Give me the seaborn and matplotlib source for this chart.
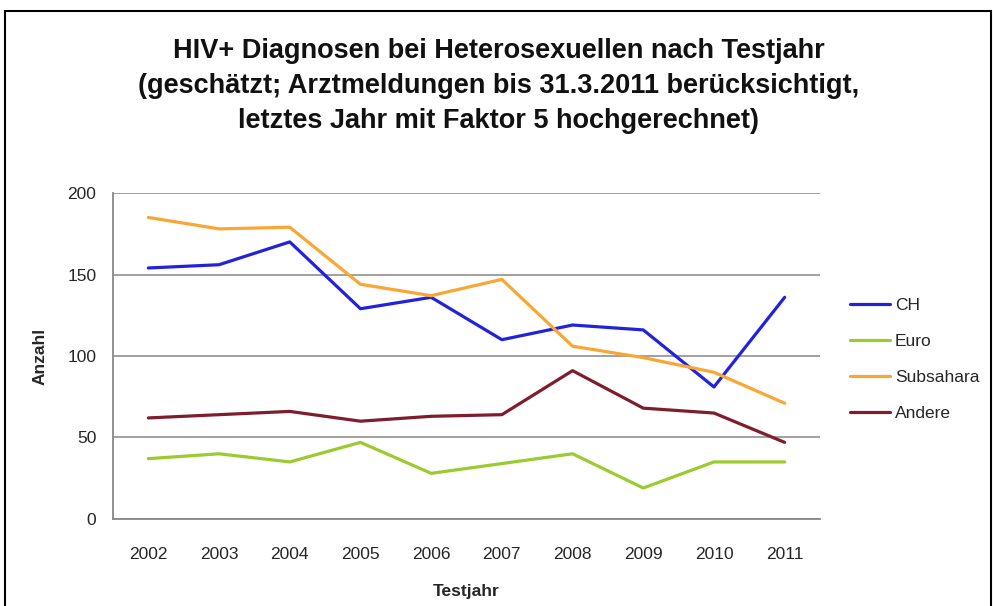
import pandas as pd
import seaborn as sns
import matplotlib.pyplot as plt
from matplotlib.patches import Rectangle

# Daten
jahre = [2002, 2003, 2004, 2005, 2006, 2007, 2008, 2009, 2010, 2011]
ch = [154, 156, 170, 129, 136, 110, 119, 116, 81, 136]
euro = [37, 40, 35, 47, 28, 34, 40, 19, 35, 35]
subsahara = [185, 178, 179, 144, 137, 147, 106, 99, 90, 71]
andere = [62, 64, 66, 60, 63, 64, 91, 68, 65, 47]

gruppen = ["CH", "Euro", "Subsahara", "Andere"]
farben = ["#2222DD", "#9BCB2F", "#F9A634", "#7E1E2C"]

df = pd.DataFrame({"Testjahr": jahre, "CH": ch, "Euro": euro,
                   "Subsahara": subsahara, "Andere": andere})
df = df.melt(id_vars="Testjahr", var_name="Gruppe", value_name="Anzahl")

sns.set_style("white")
plt.rcParams['font.family'] = ['Liberation Sans', 'DejaVu Sans']

fig = plt.figure(figsize=(9.93, 6.06), dpi=100)
ax = fig.add_axes([0.1138, 0.1436, 0.712, 0.5379])

sns.lineplot(data=df, x="Testjahr", y="Anzahl", hue="Gruppe", hue_order=gruppen,
             palette=farben, linewidth=2.3, ax=ax)

ax.set_xlim(2001.5, 2011.5)
ax.set_ylim(0, 200)
ax.set_yticks([0, 50, 100, 150, 200])
ax.set_xticks(jahre)
ax.set_xticks([j - 0.5 for j in jahre] + [2011.5], minor=True)
ax.tick_params(axis="x", which="major", length=0, labelsize=12.5, pad=20)
ax.tick_params(axis="x", which="minor", length=5, width=1, color="#888888", direction="out")
ax.tick_params(axis="y", length=5, width=1, color="#888888", direction="out", labelsize=12.5, pad=7)
ax.yaxis.grid(True, color="#999999", linewidth=1.3)
ax.set_axisbelow(True)

for s in ["top", "right"]:
    ax.spines[s].set_visible(False)
for s in ["left", "bottom"]:
    ax.spines[s].set_color("#888888")
    ax.spines[s].set_linewidth(1.3)

ax.set_xlabel("Testjahr", fontsize=12.5, fontweight="bold", labelpad=16)
ax.set_ylabel("Anzahl", fontsize=12.5, fontweight="bold", labelpad=14)

leg = ax.legend(loc="center left", bbox_to_anchor=(1.02, 0.49), frameon=False,
                fontsize=12.5, handlelength=2.3, handletextpad=0.3, labelspacing=1.2)

fig.text(0.502, 0.937,
         "HIV+ Diagnosen bei Heterosexuellen nach Testjahr\n"
         "(geschätzt; Arztmeldungen bis 31.3.2011 berücksichtigt,\n"
         "letztes Jahr mit Faktor 5 hochgerechnet)",
         ha="center", va="top", fontsize=19.5, fontweight="bold", linespacing=1.45,
         color="#111111")

# Rahmen um das Bild
fig.patches.append(Rectangle((5 / 993, -0.05), 986 / 993, 1.05 - 11 / 606,
                             transform=fig.transFigure, fill=False,
                             edgecolor="black", linewidth=1.5))

fig.savefig("out.png", dpi=100)
